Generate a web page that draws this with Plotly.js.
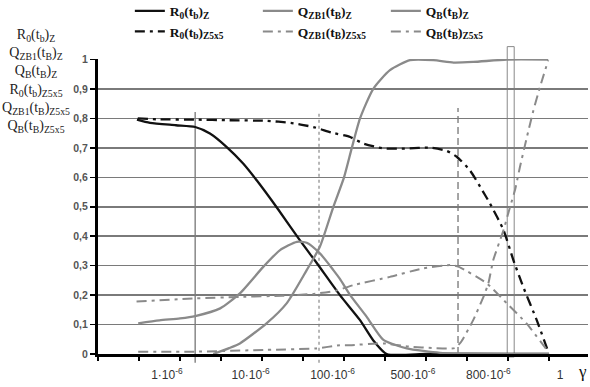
<!DOCTYPE html>
<html>
<head>
<meta charset="utf-8">
<script src="https://cdn.plot.ly/plotly-3.0.1.min.js"></script>
<style>
  html, body { margin: 0; padding: 0; background: #fff; }
  #chart { width: 590px; height: 387px; }
</style>
</head>
<body>
<div id="chart"></div>
<script>
// ---- Data (x in category-step units along the γ axis) ----
var gammaTickPos = [1.68, 3.72, 5.72, 7.68, 9.52, 11.27];
var gammaTickText = ['1·10<sup>-6</sup>', '10·10<sup>-6</sup>', '100·10<sup>-6</sup>',
                     '500·10<sup>-6</sup>', '800·10<sup>-6</sup>', '1'];
var yTickVals = [0, 0.1, 0.2, 0.3, 0.4, 0.5, 0.6, 0.7, 0.8, 0.9, 1];
var yTickText = ['0', '0,1', '0,2', '0,3', '0,4', '0,5', '0,6', '0,7', '0,8', '0,9', '1'];

var xR0Z = [0.95, 1.27, 1.9, 2.37, 2.73, 3.14, 3.54, 3.87, 4.4, 4.93, 5.33, 5.9, 6.39, 6.71, 7.04, 8, 9, 10, 11];
var yR0Z = [0.796, 0.785, 0.777, 0.771, 0.749, 0.703, 0.647, 0.59, 0.49, 0.385, 0.31, 0.2, 0.115, 0.047, 0.0, 0, 0, 0, 0];

var xQZB1Z = [0.98, 1.5, 2.0, 2.37, 2.98, 3.46, 4.03, 4.44, 4.85, 5.09, 5.41, 5.74, 5.9, 6.15, 6.55, 6.96, 7.53, 8.34, 9, 10, 11];
var yQZB1Z = [0.104, 0.114, 0.121, 0.129, 0.155, 0.206, 0.296, 0.353, 0.381, 0.378, 0.342, 0.285, 0.255, 0.2, 0.127, 0.048, 0.019, 0.004, 0.002, 0, 0];

var xQBZ = [2.81, 3.2, 3.46, 4.11, 4.6, 5.09, 5.41, 5.74, 6.0, 6.19, 6.39, 6.71, 7.12, 7.61, 8.18, 8.67, 9.15, 9.97, 10.98];
var yQBZ = [0, 0.02, 0.036, 0.104, 0.172, 0.285, 0.364, 0.5, 0.6, 0.7, 0.8, 0.9, 0.964, 0.998, 0.998, 0.99, 0.992, 1, 1];

var xR0Z5 = [0.97, 1.5, 2.37, 3.2, 4.11, 4.7, 5.25, 5.7, 6.15, 6.47, 6.96, 7.53, 8.1, 8.5, 8.75, 9.07, 9.32, 9.56, 9.89, 10.13, 10.37, 10.7, 10.98];
var yR0Z5 = [0.8, 0.797, 0.796, 0.794, 0.792, 0.785, 0.771, 0.752, 0.737, 0.715, 0.698, 0.698, 0.701, 0.69, 0.67, 0.624, 0.568, 0.511, 0.421, 0.319, 0.228, 0.115, 0.008];

var xQZB1Z5 = [0.94, 2.37, 3.46, 4.5, 5.25, 5.8, 6.23, 7.12, 7.93, 8.59, 8.8, 9.48, 9.97, 10.45, 10.98];
var yQZB1Z5 = [0.178, 0.189, 0.194, 0.198, 0.204, 0.215, 0.234, 0.262, 0.291, 0.302, 0.296, 0.24, 0.172, 0.104, 0.008];

var xQBZ5 = [0.98, 2.37, 4.11, 5.33, 5.9, 6.15, 6.96, 7.6, 8.2, 8.7, 8.85, 9.15, 9.4, 9.52, 9.64, 9.89, 10.05, 10.17, 10.29, 10.46, 10.62, 10.78, 10.98];
var yQBZ5 = [0.008, 0.008, 0.014, 0.019, 0.03, 0.03, 0.036, 0.025, 0.02, 0.02, 0.04, 0.115, 0.194, 0.24, 0.319, 0.421, 0.5, 0.557, 0.635, 0.737, 0.828, 0.907, 0.998];

// marker lines on the γ axis (positions of reference values)
var markSolid = 2.37, markDotted = 5.39, markDashed = 8.78, markBox = [9.98, 10.15];

var names = [
  '<b>R<sub>0</sub>(t<sub>b</sub>)<sub>Z</sub></b>',
  '<b>Q<sub>ZB1</sub>(t<sub>B</sub>)<sub>Z</sub></b>',
  '<b>Q<sub>B</sub>(t<sub>B</sub>)<sub>Z</sub></b>',
  '<b>R<sub>0</sub>(t<sub>b</sub>)<sub>Z5x5</sub></b>',
  '<b>Q<sub>ZB1</sub>(t<sub>B</sub>)<sub>Z5x5</sub></b>',
  '<b>Q<sub>B</sub>(t<sub>B</sub>)<sub>Z5x5</sub></b>'
];

var gray = '#8a8a8a';
var dd = '10px,5px,3px,5px';

var traces = [
  {x: xR0Z, y: yR0Z, name: names[0], mode: 'lines', line: {color: '#111', width: 2.3, shape: 'spline', smoothing: 0.6}},
  {x: xQZB1Z, y: yQZB1Z, name: names[1], mode: 'lines', line: {color: gray, width: 2.3, shape: 'spline', smoothing: 0.6}},
  {x: xQBZ, y: yQBZ, name: names[2], mode: 'lines', line: {color: gray, width: 2.3, shape: 'spline', smoothing: 0.6}},
  {x: xR0Z5, y: yR0Z5, name: names[3], mode: 'lines', line: {color: '#111', width: 2.3, dash: dd, shape: 'spline', smoothing: 0.5}},
  {x: xQZB1Z5, y: yQZB1Z5, name: names[4], mode: 'lines', line: {color: gray, width: 2, dash: dd, shape: 'spline', smoothing: 0.5}},
  {x: xQBZ5, y: yQBZ5, name: names[5], mode: 'lines', line: {color: gray, width: 2, dash: dd, shape: 'spline', smoothing: 0.5}}
];

var shapes = [
  {type: 'line', xref: 'x', yref: 'paper', x0: markSolid, x1: markSolid, y0: -0.03, y1: 0.82, line: {color: '#888', width: 1.5}, layer: 'below'},
  {type: 'line', xref: 'x', yref: 'paper', x0: markDotted, x1: markDotted, y0: -0.03, y1: 0.822, line: {color: '#888', width: 1.2, dash: 'dot'}, layer: 'below'},
  {type: 'line', xref: 'x', yref: 'paper', x0: markDashed, x1: markDashed, y0: 0.0, y1: 0.834, line: {color: '#888', width: 1.5, dash: '7px,4px'}, layer: 'below'},
  {type: 'rect', xref: 'x', yref: 'paper', x0: markBox[0], x1: markBox[1], y0: -0.01, y1: 1.042, line: {color: '#888', width: 1}, fillcolor: 'rgba(0,0,0,0)', layer: 'below'}
];

var layout = {
  width: 590, height: 387,
  margin: {l: 98, r: 2, t: 59, b: 33, pad: 0, autoexpand: false},
  paper_bgcolor: '#fff', plot_bgcolor: '#fff',
  showlegend: true,
  legend: {
    orientation: 'h', x: 0.065, xanchor: 'left', y: 1.215, yanchor: 'top',
    font: {family: 'Liberation Serif, Times New Roman, serif', size: 13.5, color: '#111'},
    entrywidth: 83, entrywidthmode: 'pixels', traceorder: 'normal',
    bgcolor: 'rgba(0,0,0,0)', tracegroupgap: 0
  },
  xaxis: {
    range: [0, 11.95], showgrid: false, zeroline: false,
    showline: true, linecolor: '#000', linewidth: 3,
    tickmode: 'array', tickvals: gammaTickPos, ticktext: gammaTickText,
    ticks: '', ticklabelstandoff: 8,
    tickfont: {family: 'Liberation Sans, Arial, sans-serif', size: 12, color: '#333'},
    minor: {ticks: 'outside', ticklen: 4, tickwidth: 1.2, tickcolor: '#000', tickmode: 'linear', tick0: 0, dtick: 1, showgrid: false},
    fixedrange: true
  },
  yaxis: {
    range: [0, 1.002], showgrid: true, gridcolor: '#7a7a7a', gridwidth: 1.5,
    zeroline: false, showline: true, linecolor: '#000', linewidth: 3,
    tickmode: 'array', tickvals: yTickVals, ticktext: yTickText,
    ticks: 'outside', ticklen: 5, tickwidth: 1.5, tickcolor: '#000',
    tickfont: {family: 'Liberation Sans, Arial, sans-serif', size: 10.5, color: '#555', weight: 'bold'},
    fixedrange: true
  },
  shapes: shapes,
  annotations: [
    {xref: 'paper', yref: 'paper', x: -0.127, y: 0.925, xanchor: 'center', yanchor: 'middle', showarrow: false, align: 'center',
     text: 'R<sub>0</sub>(t<sub>b</sub>)<sub>Z</sub><br>Q<sub>ZB1</sub>(t<sub>B</sub>)<sub>Z</sub><br>Q<sub>B</sub>(t<sub>B</sub>)<sub>Z</sub><br>R<sub>0</sub>(t<sub>b</sub>)<sub>Z5x5</sub><br>Q<sub>ZB1</sub>(t<sub>B</sub>)<sub>Z5x5</sub><br>Q<sub>B</sub>(t<sub>B</sub>)<sub>Z5x5</sub>',
     font: {family: 'Liberation Serif, Times New Roman, serif', size: 14, color: '#222'}},
    {xref: 'paper', yref: 'paper', x: 0.988, y: -0.06, xanchor: 'center', yanchor: 'middle', showarrow: false,
     text: 'γ', font: {family: 'Liberation Serif, Times New Roman, serif', size: 17, color: '#111'}}
  ]
};

Plotly.newPlot('chart', traces, layout, {displayModeBar: false, staticPlot: true});
</script>
</body>
</html>
